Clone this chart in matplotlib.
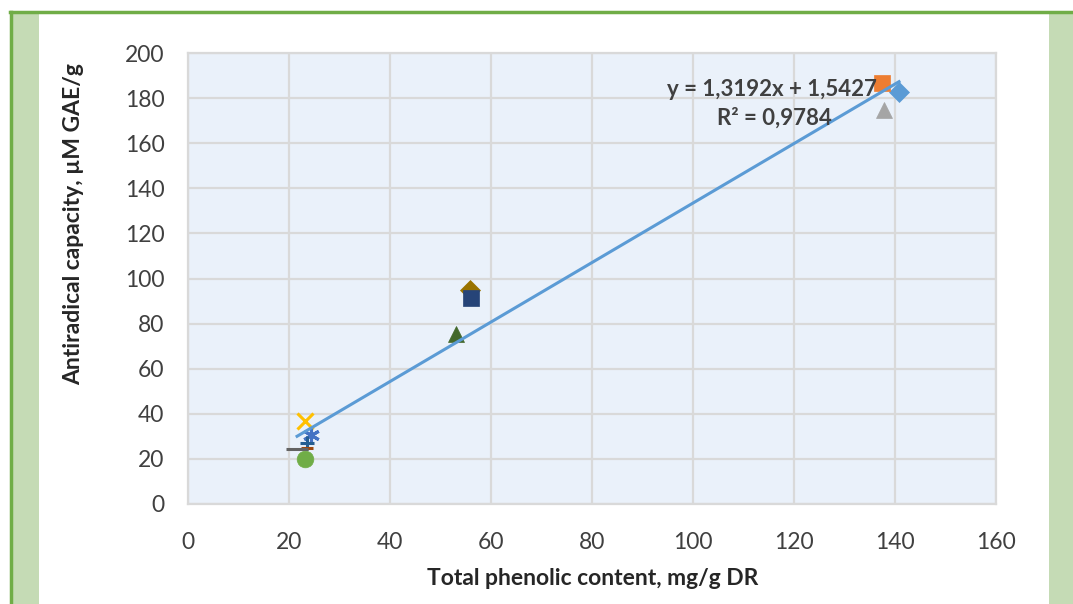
import matplotlib.pyplot as plt
from matplotlib.patches import Rectangle
from matplotlib.lines import Line2D

plt.rcParams['font.family'] = ['Lato', 'DejaVu Sans']

# series data (x: total phenolic content, y: antiradical capacity)
x_vals = [140.8, 137.4, 137.8, 23.2, 24.4, 23.2, 23.6, 23.6, 21.6, 55.8, 56.0, 53.1]
y_vals = [182.7, 186.7, 174.7, 36.8, 30.5, 20.0, 27.0, 24.9, 24.4, 94.9, 91.4, 75.4]
markers = ['D', 's', '^', 'x', (6, 2, 0), 'o', '+', '_', '_', 'D', 's', '^']
colors = ['#5B9BD5', '#ED7D31', '#A5A5A5', '#FFC000', '#4472C4', '#70AD47',
          '#255E91', '#9E480E', '#636363', '#997300', '#264478', '#43682B']
sizes = [10, 11, 11, 11, 12, 12, 10, 8, 16, 10, 11, 11]

slope = 1.3192
intercept = 1.5427
r2 = 0.9784

x_ticks = list(range(0, 161, 20))
y_ticks = list(range(0, 201, 20))

fig = plt.figure(figsize=(10.73, 6.04), dpi=100)

# decorative frame
fig.patches.append(Rectangle((12 / 1073, 0), 27 / 1073, 1 - 13 / 604, transform=fig.transFigure,
                             facecolor='#C5DBB5', edgecolor='none', zorder=0))
fig.patches.append(Rectangle((1049 / 1073, 0), 24 / 1073, 1 - 13 / 604, transform=fig.transFigure,
                             facecolor='#C5DBB5', edgecolor='none', zorder=0))
fig.lines.append(Line2D([11 / 1073, 11 / 1073], [0, 1 - 12 / 604], transform=fig.transFigure,
                        color='#70AD47', lw=2.5))
fig.lines.append(Line2D([10 / 1073, 1], [1 - 12 / 604, 1 - 12 / 604], transform=fig.transFigure,
                        color='#70AD47', lw=2.5))

ax = fig.add_axes([188 / 1073, 1 - 504 / 604, (996 - 188) / 1073, (504 - 53) / 604])
ax.set_facecolor('#EAF1FA')

for xi, yi, m, c, s in zip(x_vals, y_vals, markers, colors, sizes):
    thin = m in ('x', '+', '_') or isinstance(m, tuple)
    ax.plot(xi, yi, marker=m, color=c, markersize=s, markeredgewidth=2.2 if thin else 0.5,
            markeredgecolor=c, linestyle='none', zorder=3)

# linear trendline over the data range
x0, x1 = min(x_vals), max(x_vals)
ax.plot([x0, x1], [slope * x0 + intercept, slope * x1 + intercept], color='#5B9BD5', lw=2.2, zorder=4)

ax.text(136.5, 184, 'y = 1,3192x + 1,5427', ha='right', va='center', fontsize=16, fontweight='bold',
        color='#404040', zorder=5)
ax.text(127.5, 171, 'R² = 0,9784', ha='right', va='center', fontsize=16, fontweight='bold',
        color='#404040', zorder=5)

ax.set_xlim(0, 160)
ax.set_ylim(0, 200)
ax.set_xticks(x_ticks)
ax.set_yticks(y_ticks)
ax.grid(True, color='#D9D9D9', lw=1.6)
ax.set_axisbelow(True)
for sp in ax.spines.values():
    sp.set_color('#D9D9D9')
    sp.set_linewidth(1.6)
ax.tick_params(length=0, labelsize=16.5, colors='#404040')
ax.tick_params(axis='x', pad=20)
ax.tick_params(axis='y', pad=17)

ax.set_xlabel('Total phenolic content, mg/g DR', fontsize=16.5, fontweight='bold', color='#262626')
ax.set_ylabel('Antiradical capacity, µM GAE/g', fontsize=16.5, fontweight='bold', color='#262626')
ax.xaxis.set_label_coords(0.501, -0.142)
ax.yaxis.set_label_coords(-0.129, 0.62)

fig.savefig('out.png', dpi=100)
